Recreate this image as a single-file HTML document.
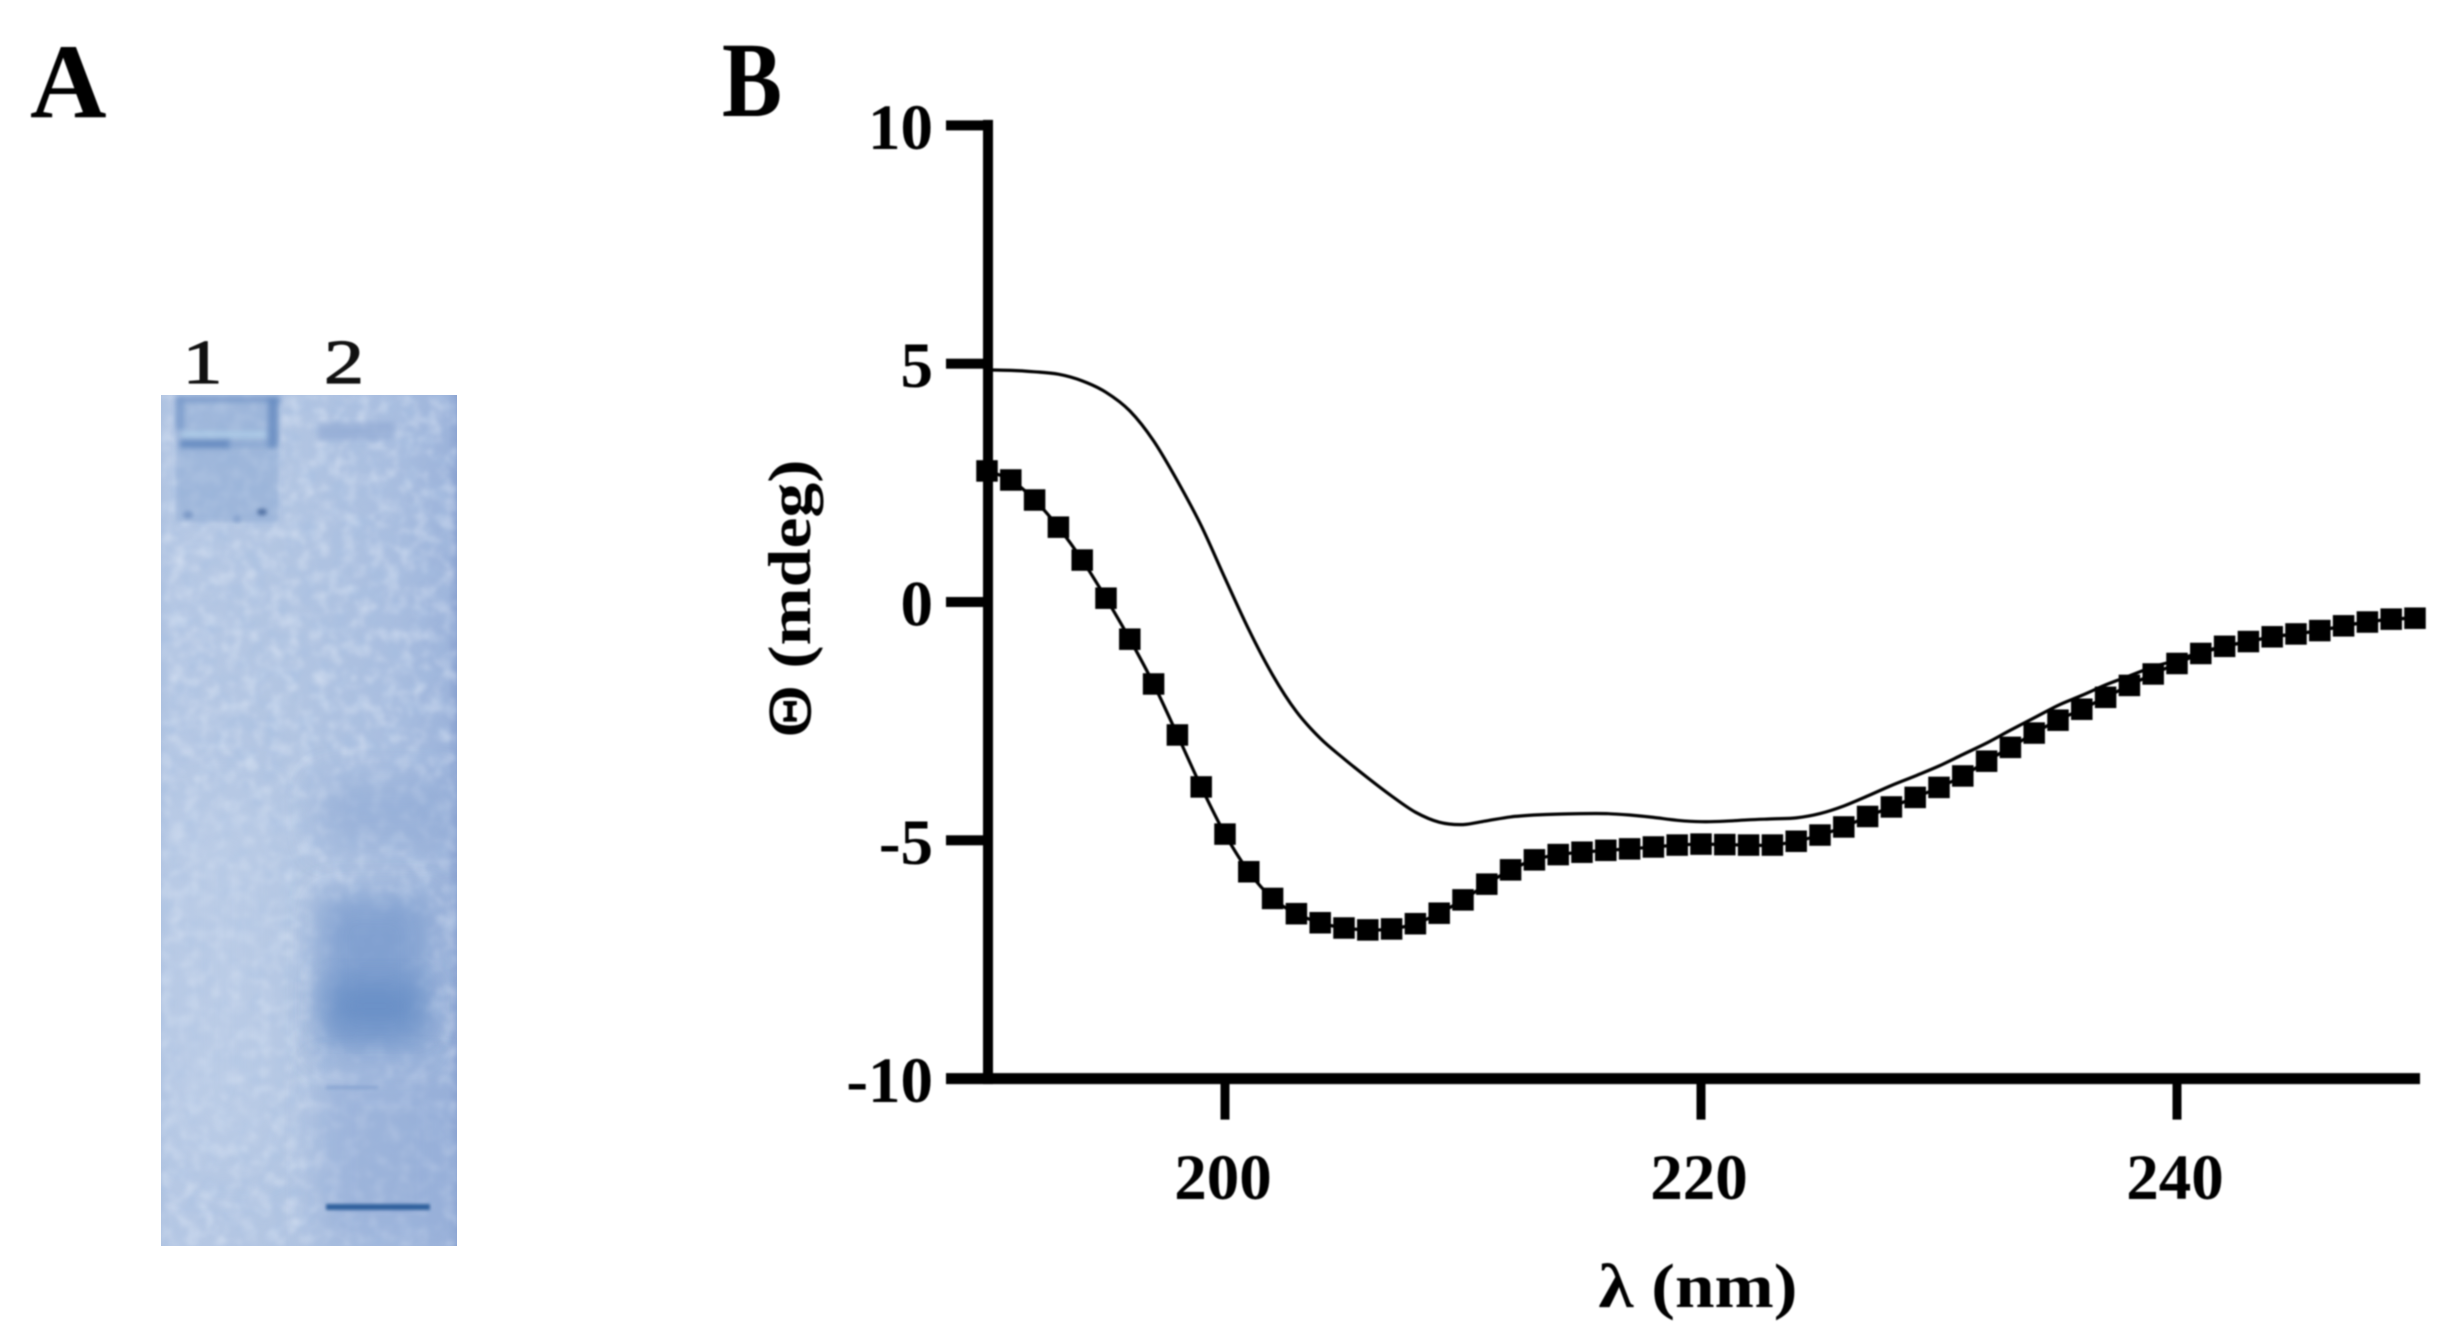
<!DOCTYPE html>
<html lang="en">
<head>
<meta charset="utf-8">
<title>Gel electrophoresis and CD spectrum</title>
<style>
html,body{margin:0;padding:0;background:#fff;width:2451px;height:1342px;overflow:hidden}
svg{display:block;position:absolute;left:0;top:0}
text{font-family:"Liberation Serif",serif;fill:#000}
</style>
</head>
<body>
<svg id="figure" width="2451" height="1342" viewBox="0 0 2451 1342" xmlns="http://www.w3.org/2000/svg">
  <defs>
    <linearGradient id="gel-base" x1="0" y1="0" x2="1" y2="0">
      <stop offset="0" stop-color="#aec2e0"/>
      <stop offset="0.03" stop-color="#b6c8e4"/>
      <stop offset="0.45" stop-color="#b2c5e2"/>
      <stop offset="0.8" stop-color="#a8bddf"/>
      <stop offset="0.97" stop-color="#9cb3da"/>
      <stop offset="1" stop-color="#8aa2d0"/>
    </linearGradient>
    <filter id="gel-noise-dark" x="0" y="0" width="100%" height="100%">
      <feTurbulence type="fractalNoise" baseFrequency="0.06" numOctaves="3" seed="4"/>
      <feColorMatrix values="0 0 0 0 0.38  0 0 0 0 0.52  0 0 0 0 0.76  0 0 0 2.2 -0.95"/>
      <feGaussianBlur stdDeviation="1.8"/>
    </filter>
    <filter id="gel-noise-light" x="0" y="0" width="100%" height="100%">
      <feTurbulence type="fractalNoise" baseFrequency="0.07" numOctaves="3" seed="11"/>
      <feColorMatrix values="0 0 0 0 0.82  0 0 0 0 0.88  0 0 0 0 0.97  0 0 0 2.2 -0.95"/>
      <feGaussianBlur stdDeviation="1.8"/>
    </filter>
    <filter id="blur-30" x="-60%" y="-60%" width="220%" height="220%"><feGaussianBlur stdDeviation="30"/></filter>
    <filter id="blur-16" x="-50%" y="-50%" width="200%" height="200%"><feGaussianBlur stdDeviation="16"/></filter>
    <filter id="blur-4" x="-40%" y="-300%" width="180%" height="700%"><feGaussianBlur stdDeviation="3"/></filter>
    <filter id="blur-3" x="-100%" y="-300%" width="300%" height="700%"><feGaussianBlur stdDeviation="3"/></filter>
    <filter id="blur-2" x="-100%" y="-100%" width="300%" height="300%"><feGaussianBlur stdDeviation="2"/></filter>
    <filter id="blur-1" x="-10%" y="-300%" width="120%" height="700%"><feGaussianBlur stdDeviation="1.5"/></filter>
    <clipPath id="gel-clip"><rect x="161" y="395" width="296" height="851"/></clipPath>
  </defs>

  <g>
    <text x="30" y="117" font-size="106" font-weight="bold" style="filter:blur(0.7px)">A</text>
    <text x="202.5" y="383" font-size="62" text-anchor="middle" textLength="40" lengthAdjust="spacingAndGlyphs" style="fill:#111;stroke:#111;stroke-width:1.2px;filter:blur(0.8px)">1</text>
    <text x="344" y="383" font-size="62" text-anchor="middle" textLength="40" lengthAdjust="spacingAndGlyphs" style="fill:#111;stroke:#111;stroke-width:1.2px;filter:blur(0.8px)">2</text>
    <g clip-path="url(#gel-clip)">
      <rect x="161" y="395" width="296" height="851" fill="url(#gel-base)"/>
      <rect x="161" y="395" width="296" height="851" filter="url(#gel-noise-dark)" opacity="0.55"/>
      <rect x="161" y="395" width="296" height="851" filter="url(#gel-noise-light)" opacity="0.45"/>
      <rect x="170" y="800" width="110" height="360" fill="#c3d3ea" opacity="0.4" filter="url(#blur-30)"/>
      <g>
        <rect x="176" y="398" width="102" height="124" fill="#8aa8d3" opacity="0.5" filter="url(#blur-2)"/>
        <rect x="176" y="396" width="104" height="6" fill="#6d90c4" opacity="0.7" filter="url(#blur-3)"/>
        <rect x="176" y="400" width="8" height="30" fill="#6c90c4" opacity="0.6" filter="url(#blur-3)"/>
        <rect x="182" y="432" width="86" height="5" fill="#b4d6ee" opacity="0.75" filter="url(#blur-3)"/>
        <rect x="180" y="440" width="50" height="8" fill="#527db8" opacity="0.75" filter="url(#blur-3)"/>
        <rect x="228" y="442" width="44" height="5" fill="#7a9ccc" opacity="0.6" filter="url(#blur-3)"/>
        <rect x="268" y="398" width="10" height="50" fill="#5c83bc" opacity="0.7" filter="url(#blur-3)"/>
        <ellipse cx="262" cy="512" rx="5" ry="3.5" fill="#46679c" opacity="0.85" filter="url(#blur-2)"/>
        <ellipse cx="188" cy="515" rx="5" ry="4" fill="#6f8fc0" opacity="0.7" filter="url(#blur-2)"/>
        <ellipse cx="237" cy="519" rx="4" ry="4" fill="#7a99c8" opacity="0.6" filter="url(#blur-2)"/>
      </g>
      <rect x="318" y="422" width="76" height="18" fill="#8ca6d1" opacity="0.6" filter="url(#blur-4)"/>
      <rect x="320" y="780" width="130" height="66" fill="#8ea9d4" opacity="0.58" filter="url(#blur-16)"/>
      <rect x="320" y="896" width="108" height="160" fill="#7a9bce" opacity="0.85" filter="url(#blur-16)"/>
      <rect x="326" y="982" width="98" height="48" fill="#5f88c2" opacity="0.7" filter="url(#blur-16)"/>
      <rect x="320" y="1070" width="135" height="176" fill="#8fa9d5" opacity="0.5" filter="url(#blur-16)"/>
      <rect x="326" y="1086" width="52" height="3" fill="#6d90c6" opacity="0.45" filter="url(#blur-1)"/>
      <rect x="326" y="1204" width="104" height="6" fill="#2f5f9c" filter="url(#blur-1)"/>
    </g>
  </g>

  <g id="chart" style="filter:blur(0.7px)">
    <text x="722" y="116" font-size="107" font-weight="bold" textLength="60" lengthAdjust="spacingAndGlyphs">B</text>
    <text transform="translate(810,598) rotate(-90)" font-size="60" font-weight="bold" text-anchor="middle" textLength="277" lengthAdjust="spacingAndGlyphs"><tspan font-weight="normal" style="stroke:#000;stroke-width:1.5px">Θ</tspan> (mdeg)</text>
    <text x="1698" y="1307" font-size="62" font-weight="bold" text-anchor="middle" textLength="199" lengthAdjust="spacingAndGlyphs">λ (nm)</text>
  </g>
</svg>
<script>
const wavelengths = [190,191,192,193,194,195,196,197,198,199,200,201,202,203,204,205,206,207,208,209,210,211,212,213,214,215,216,217,218,219,220,221,222,223,224,225,226,227,228,229,230,231,232,233,234,235,236,237,238,239,240,241,242,243,244,245,246,247,248,249,250];
const markerSeries = [2.75,2.56,2.14,1.57,0.88,0.08,-0.78,-1.72,-2.79,-3.88,-4.87,-5.66,-6.22,-6.54,-6.73,-6.84,-6.88,-6.86,-6.75,-6.53,-6.25,-5.92,-5.62,-5.41,-5.30,-5.25,-5.21,-5.18,-5.14,-5.10,-5.08,-5.09,-5.10,-5.10,-5.02,-4.89,-4.72,-4.50,-4.30,-4.10,-3.89,-3.65,-3.34,-3.05,-2.75,-2.48,-2.25,-2.00,-1.75,-1.51,-1.29,-1.08,-0.93,-0.83,-0.73,-0.67,-0.60,-0.50,-0.42,-0.36,-0.34];
const lineSeries = [4.87,4.86,4.83,4.78,4.64,4.40,4.01,3.38,2.54,1.60,0.50,-0.58,-1.53,-2.30,-2.86,-3.29,-3.69,-4.07,-4.41,-4.62,-4.67,-4.59,-4.51,-4.47,-4.45,-4.44,-4.44,-4.47,-4.52,-4.58,-4.61,-4.60,-4.57,-4.55,-4.53,-4.44,-4.28,-4.07,-3.85,-3.65,-3.44,-3.20,-2.96,-2.69,-2.43,-2.17,-1.96,-1.74,-1.55,-1.36,-1.22,-1.05,-0.93,-0.83,-0.73,-0.67,-0.60,-0.50,-0.42,-0.36,-0.34];
const xTicks = [200,220,240];
const yTicks = [10,5,0,-5,-10];

const NS = 'http://www.w3.org/2000/svg';
const chart = document.getElementById('chart');
const sx = v => 987 + (v - 190) * 23.8;
const sy = v => 602 - v * 47.66;

function make(tag, attrs, parent) {
  const el = document.createElementNS(NS, tag);
  for (const k in attrs) el.setAttribute(k, attrs[k]);
  parent.appendChild(el);
  return el;
}

function smoothPath(xs, ys) {
  let d = 'M' + sx(xs[0]).toFixed(1) + ' ' + sy(ys[0]).toFixed(1);
  for (let i = 0; i < xs.length - 1; i++) {
    const x0 = sx(xs[Math.max(i - 1, 0)]), y0 = sy(ys[Math.max(i - 1, 0)]);
    const x1 = sx(xs[i]), y1 = sy(ys[i]);
    const x2 = sx(xs[i + 1]), y2 = sy(ys[i + 1]);
    const x3 = sx(xs[Math.min(i + 2, xs.length - 1)]), y3 = sy(ys[Math.min(i + 2, xs.length - 1)]);
    d += 'C' + (x1 + (x2 - x0) / 6).toFixed(1) + ' ' + (y1 + (y2 - y0) / 6).toFixed(1) + ' ' +
         (x2 - (x3 - x1) / 6).toFixed(1) + ' ' + (y2 - (y3 - y1) / 6).toFixed(1) + ' ' +
         x2.toFixed(1) + ' ' + y2.toFixed(1);
  }
  return d;
}

/* series */
const smoothLine = make('path', {d: smoothPath(wavelengths, lineSeries), fill: 'none', stroke: '#000', 'stroke-width': 3.2}, chart);



const markerLine = make('path', {d: smoothPath(wavelengths, markerSeries), fill: 'none', stroke: '#000', 'stroke-width': 3.2}, chart);



/* axes */
const yAxisLine = make('rect', {x: sx(190) - 4, y: sy(10) - 5.5, width: 10, height: sy(-10) - sy(10) + 11, fill: '#000'}, chart);



const xAxisLine = make('rect', {x: 946, y: sy(-10) - 5.5, width: 1474, height: 11, fill: '#000'}, chart);



yTicks.forEach(v => {
  const tick = make('rect', {x: 946, y: sy(v) - 5, width: 42, height: 10, fill: '#000'}, chart);
  
  
  const label = make('text', {x: 933, y: sy(v) + 23.5, 'font-size': 65, 'font-weight': 'bold', 'text-anchor': 'end'}, chart);
  
  
  label.textContent = String(v);
});

xTicks.forEach(v => {
  const tick = make('rect', {x: sx(v) - 4.5, y: sy(-10), width: 9, height: 41, fill: '#000'}, chart);
  
  
  const label = make('text', {x: sx(v) - 2, y: 1199, 'font-size': 65, 'font-weight': 'bold', 'text-anchor': 'middle'}, chart);
  
  
  label.textContent = String(v);
});

/* markers */
wavelengths.forEach((w, i) => {
  const m = make('rect', {x: sx(w) - 10.75, y: sy(markerSeries[i]) - 10.75, width: 21.5, height: 21.5, fill: '#000'}, chart);
  
  
});
</script>
</body>
</html>
